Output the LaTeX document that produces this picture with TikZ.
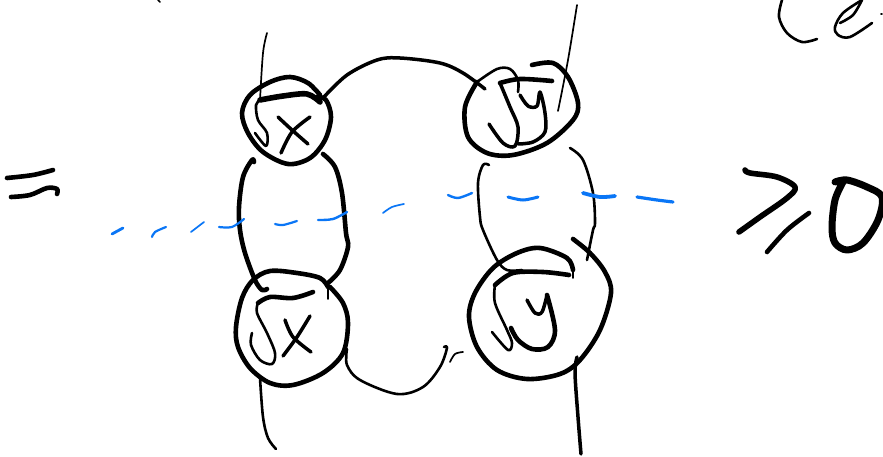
\documentclass[tikz,border=0pt]{standalone}
\definecolor{inkblue}{RGB}{10,118,246}
\tikzset{
 ink/.style={draw=black,line cap=round,line join=round},
 hair/.style={line width=1.7pt},
 thin ink/.style={line width=2.6pt},
 mid ink/.style={line width=3.5pt},
 heavy/.style={line width=4.6pt},
 heavier/.style={line width=5.6pt},
 dashblue/.style={draw=inkblue,line cap=round}
}
\newcommand{\stroke}[2]{\draw[ink,#1] plot[smooth,tension=0.55] coordinates {#2};}
\newcommand{\bluedash}[2][2pt]{\draw[dashblue,line width=#1] plot[smooth,tension=0.55] coordinates {#2};}
\begin{document}
\begin{tikzpicture}[x=1pt,y=-1pt]
\useasboundingbox[fill=white] (0,0) rectangle (883,457);
% equals
\stroke{heavy}{(7,178)(33,175)(53,170)}
\stroke{heavy}{(11,197)(30,195)(47,188)(57,189)(57,194)}
% top-left tangle
\stroke{hair}{(267,33)(263,53)(260,100)}
\stroke{heavy}{(320,95)(308,83)(290,77)(270,82)(250,95)(242,113)(248,133)(263,152)(288,164)(310,158)(325,140)(331,117)(326,100)(317,97)}
\stroke{heavier}{(320,102)(307,94)(283,96)(260,100)}
\stroke{thin ink}{(260,100)(256,105)(258,120)(267,133)(266,146)(255,133)}
\stroke{mid ink}{(278,117)(292,130)(308,144)}
\stroke{mid ink}{(310,117)(292,132)(281,153)}
% top arc
\stroke{mid ink}{(323,98)(347,75)(377,60)(400,58)(440,63)(463,73)(485,89)}
% top-right tangle
\stroke{thin ink}{(518,92)(518,80)(510,69)(497,69)(477,82)}
\stroke{heavy}{(477,82)(465,107)(468,137)(487,153)(513,155)(547,143)(573,120)(578,103)(568,77)(553,63)(532,65)}
\stroke{heavy}{(552,81)(520,79)(500,83)}
\stroke{mid ink}{(500,83)(510,107)(518,127)(515,146)(503,143)(489,124)}
\stroke{mid ink}{(520,95)(528,106)(537,106)(540,92)(545,113)(545,132)(533,142)(518,144)}
\stroke{hair}{(577,5)(568,60)(558,111)}
% left pair
\stroke{heavy}{(254,162)(252,160)(243,177)(239,207)(240,230)(245,253)(255,280)(262,290)(267,289)}
\stroke{heavy}{(323,154)(335,167)(342,193)(346,233)(348,247)(340,270)(328,283)}
% right pair
\stroke{thin ink}{(489,165)(483,165)(478,183)(480,217)(483,230)(497,260)(507,270)(522,270)}
\stroke{thin ink}{(570,148)(583,160)(593,193)(595,223)(593,230)(587,260)}
% bottom-left tangle
\stroke{hair}{(328,287)(328,299)}
\stroke{heavy}{(328,287)(320,278)(297,273)(270,271)(253,280)(242,298)(236,327)(238,347)(250,368)(270,383)(293,385)(323,373)(343,353)(348,323)(343,303)(330,287)}
\stroke{heavy}{(313,292)(293,298)(270,297)(258,303)}
\stroke{thin ink}{(258,303)(257,313)(267,333)(275,353)(272,364)(260,360)(251,345)(252,333)}
\stroke{mid ink}{(285,320)(293,337)(311,352)}
\stroke{mid ink}{(310,316)(297,337)(283,356)}
\stroke{thin ink}{(260,378)(263,417)(268,438)(276,449)}
% bottom arc
\stroke{thin ink}{(347,349)(347,365)(360,380)(397,394)(423,387)(440,367)(447,348)(444,347)}
\stroke{hair}{(450,362)(455,354)(463,352)}
% bottom-right tangle
\stroke{hair}{(573,278)(573,270)}
\stroke{heavy}{(573,270)(567,258)(540,248)(517,253)(493,268)(475,293)(469,317)(477,347)(497,370)(527,379)(560,374)(580,360)(600,330)(611,293)(605,272)(590,253)(573,239)}
\stroke{heavy}{(569,275)(543,272)(513,273)(495,285)}
\stroke{thin ink}{(495,285)(495,303)(507,330)(512,343)(508,350)(492,332)}
\stroke{mid ink}{(527,300)(535,313)(542,312)(547,295)}
\stroke{heavy}{(547,295)(555,330)(548,347)(532,349)(518,340)(511,328)}
\stroke{mid ink}{(577,357)(575,373)(578,417)(581,454)}
% blue dashes
\bluedash[2.8pt]{(112,234)(123,228)}
\bluedash[2.2pt]{(152,237)(155,232)(166,227)}
\bluedash[1.7pt]{(191,232)(204,222)}
\bluedash[2.2pt]{(219,227)(232,227)(244,219)}
\bluedash[2.2pt]{(275,224)(283,225)(297,221)}
\bluedash[2.4pt]{(318,220)(333,219)(347,212)}
\bluedash[1.7pt]{(383,213)(392,207)(404,204)}
\bluedash[2.4pt]{(448,195)(458,198)(472,193)}
\bluedash[3pt]{(508,197)(523,200)(538,197)}
\bluedash[3.8pt]{(583,193)(600,197)(615,196)}
\bluedash[3.2pt]{(637,197)(657,200)(673,202)}
% greater-or-equal
\stroke{line width=5.6pt}{(745,170)(750,173)(777,177)(795,187)(787,198)(760,217)(739,232)}
\stroke{line width=4.6pt}{(809,213)(787,230)(767,252)}
% zero
\stroke{line width=7pt}{(835,182)(847,180)(867,187)(882,197)(878,220)(863,243)(847,250)(835,243)(832,227)(835,200)(843,182)}
% letters at top right
\stroke{thin ink}{(782,0)(779,17)(787,33)(802,42)(817,39)}
\stroke{thin ink}{(840,23)(853,15)(862,0)}
\stroke{thin ink}{(862,0)(843,13)(835,27)(838,35)(850,37)(872,23)}
\stroke{hair}{(881,14)(882,14)}
\stroke{hair}{(158,0)(160,2)}
\end{tikzpicture}
\end{document}
